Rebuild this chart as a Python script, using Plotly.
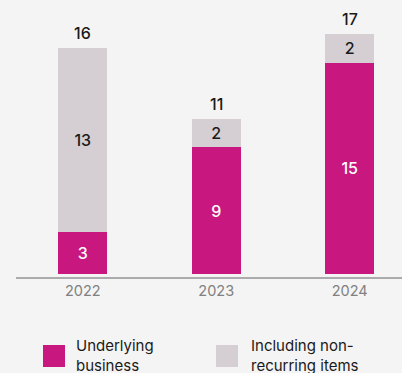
import plotly.graph_objects as go

years = ["2022", "2023", "2024"]
underlying = [3, 9, 15]
nonrecurring = [13, 2, 2]
totals = [16, 11, 17]
legend_labels = ["Underlying<br>business", "Including non-<br>recurring items"]

MAGENTA = "#C8187F"
GREY = "#D5CFD3"
BG = "#F4F4F4"
FONT = "Inter"
DARK = "#1a1a1a"

W, H = 402, 373
L, R, T, B = 16, 0, 0, 96
plot_w = W - L - R
plot_h = H - T - B

fig = go.Figure()
fig.add_trace(go.Bar(
    x=years, y=underlying, marker_color=MAGENTA, marker_line_width=0,
    text=[str(v) for v in underlying], textposition="inside", insidetextanchor="middle",
    textfont=dict(family=FONT, size=16, color="white", weight=500), width=0.367,
    hoverinfo="skip"))
fig.add_trace(go.Bar(
    x=years, y=nonrecurring, marker_color=GREY, marker_line_width=0,
    text=[str(v) for v in nonrecurring], textposition="inside", insidetextanchor="middle",
    textfont=dict(family=FONT, size=16, color=DARK, weight=500), width=0.367,
    hoverinfo="skip"))

for i, t in enumerate(totals):
    fig.add_annotation(x=i, y=t, text=str(t), showarrow=False, yanchor="bottom",
                       yshift=3, font=dict(family=FONT, size=16, color=DARK, weight=500))

def px_x(px):
    return (px - L) / plot_w

def px_y(py):
    return (T + plot_h - py) / plot_h

# legend
legend_items = [(43, MAGENTA, 74, legend_labels[0]), (216, GREY, 249, legend_labels[1])]
for sx, col, tx, lab in legend_items:
    fig.add_shape(type="rect", xref="paper", yref="paper",
                  x0=px_x(sx), x1=px_x(sx + 22), y0=px_y(345), y1=px_y(367),
                  fillcolor=col, line_width=0)
    fig.add_annotation(xref="paper", yref="paper", x=px_x(tx), y=px_y(355),
                       xanchor="left", yanchor="middle", align="left", text=lab,
                       showarrow=False, font=dict(family=FONT, size=15, color=DARK, weight=400))

ppu = 14.1
fig.update_layout(
    width=W, height=H, margin=dict(l=L, r=R, t=T, b=B),
    barmode="stack", showlegend=False,
    paper_bgcolor=BG, plot_bgcolor=BG,
    xaxis=dict(type="category", range=[-0.5, -0.5 + plot_w / 133.5], showline=True,
               linecolor="#ABABAB", linewidth=1.5, showgrid=False, ticks="", zeroline=False,
               tickfont=dict(family=FONT, size=14.5, color="#808080"), fixedrange=True),
    yaxis=dict(range=[-3 / ppu, (plot_h - 3) / ppu], visible=False, showgrid=False,
               zeroline=False, fixedrange=True),
)

fig.write_html("out.html", config={"displayModeBar": False})
